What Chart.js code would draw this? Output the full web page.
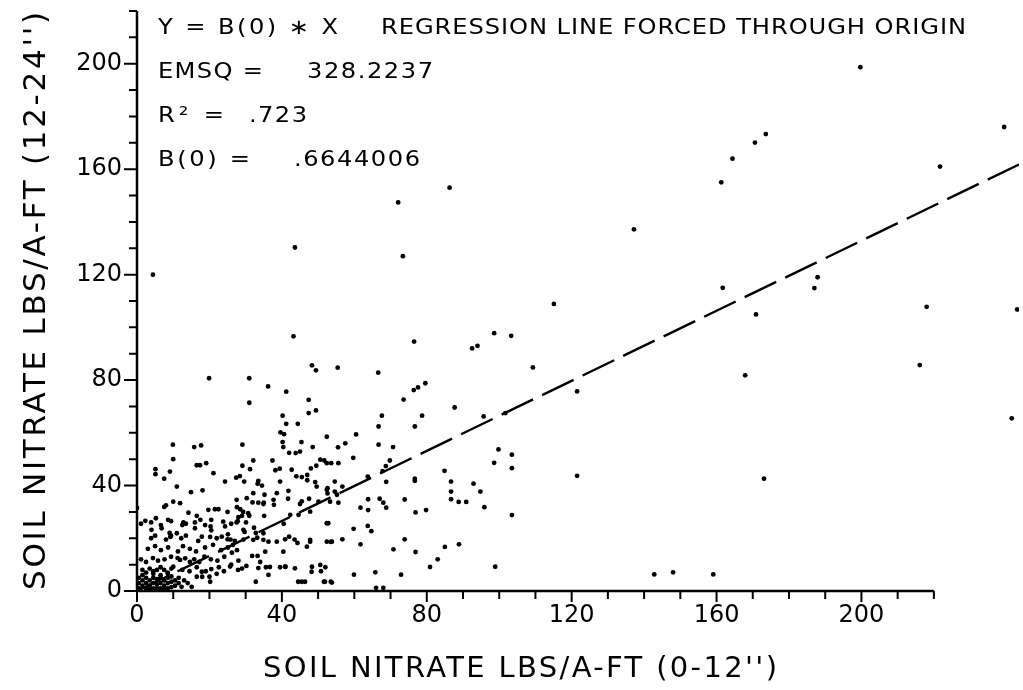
<!DOCTYPE html>
<html>
<head>
<meta charset="utf-8">
<script src="https://cdn.jsdelivr.net/npm/chart.js@4.4.0/dist/chart.umd.min.js"></script>
<style>
  html, body { margin: 0; padding: 0; background: #fff; }
  #wrap { width: 1023px; height: 690px; position: relative; }
</style>
</head>
<body>
<div id="wrap"><canvas id="nitrateChart"></canvas></div>
<script>
// readings: [0-12" nitrate, 12-24" nitrate] in lbs/a-ft
const outlierPoints = [
  [4.4, 120], [43.6, 130.3], [72.1, 147.4], [73.4, 127], [86.3, 153], [137.2, 137.2], [115.1, 108.9],
  [109.3, 84.8], [199.7, 198.7], [239.4, 176], [173.6, 173.3], [170.6, 170.1], [164.4, 164], [161.3, 155],
  [221.7, 161], [161.7, 115], [187.9, 119], [187, 114.9], [218, 107.8], [243, 106.8], [170.9, 104.9],
  [216.1, 85.7], [167.9, 81.8], [241.5, 65.5], [121.5, 75.7], [121.5, 43.7], [173.1, 42.6], [142.8, 6.3],
  [148, 7.1], [159.1, 6.3], [43.2, 96.6], [19.9, 80.7], [31, 80.7], [48.3, 85.6], [49.4, 83.7], [36.2, 77.6],
  [41.2, 75.6], [31, 71.4], [47.4, 72.5], [40.2, 66.5], [47.4, 67.5], [49.4, 68.5], [41.2, 63.4], [44.4, 63.4],
  [39.6, 60.2], [40.6, 59.5], [52.4, 58.5], [76.5, 94.6], [98.6, 97.8], [103.3, 96.8], [92.5, 92], [94, 93],
  [55.4, 84.7], [66.6, 82.8], [79.6, 78.8], [76.4, 76.2], [77.6, 77.2], [73.6, 72.6], [87.7, 69.6], [67.6, 66.5],
  [78.7, 66.5], [66.7, 62.4], [76.7, 62.4], [60.5, 59.4], [95.7, 66.2], [101.7, 67.5]
];

const midRangePoints = [
  [55.5, 54.5], [57.5, 56], [53.6, 48.5], [55.6, 48.5], [59.7, 50.5], [66.7, 55.5], [70.7, 54.6], [69.8, 49.5],
  [68.7, 47.4], [67.8, 45.5], [63.7, 43.4], [68.8, 41.4], [54.6, 41.5], [56.7, 39.6], [54.6, 37.7], [55.6, 33.5],
  [63.8, 34.8], [67, 35], [68, 33.5], [61.7, 31.6], [63.8, 30.7], [68.8, 31.6], [73.9, 34.7], [76.7, 41.8],
  [76.7, 42.6], [76.9, 29.8], [79.8, 30.7], [84.9, 45.6], [86.7, 41.5], [86.7, 37.7], [86.7, 34.8], [88.8, 33.8],
  [90.9, 33.8], [92.9, 40.7], [94.8, 37.7], [95.9, 31.8], [98.6, 48.6], [99.8, 53.7], [103.5, 51.7], [103.5, 46.6],
  [103.5, 28.8], [53.5, 18.6], [56.7, 19.6], [59.8, 23.6], [61.7, 17.7], [63.7, 24.7], [64.7, 22.7], [73.9, 19.6],
  [70.8, 15.8], [76.9, 14.8], [85, 16.7], [88.9, 17.7], [83, 12], [80.9, 9.1], [98.9, 9.2], [59.9, 6.2],
  [65.8, 7.1], [72.9, 6.2], [53.8, 3.2], [66, 1.2], [68, 1.2]
];

const mainCloudPoints = [
  [9.9, 55.5], [10, 50], [15.8, 54.6], [17.7, 55.2], [29.1, 55.5], [40.2, 56.5], [40.4, 54.6], [42, 52.4],
  [43.8, 52.3], [45, 52.9], [45.4, 56.5], [48.5, 54.6], [51.7, 49.5], [32.1, 49.5], [37.4, 49.5], [16.5, 47.7],
  [17.4, 47.7], [19.1, 48.5], [5.1, 46.2], [5.1, 44.3], [9.1, 45.3], [21.1, 44.7], [29.1, 47.5], [31.2, 46.2],
  [27.4, 43], [28.4, 43.6], [24.3, 41.5], [7.5, 42.6], [11, 39.6], [18.1, 38.2], [14.9, 37.5], [33.3, 40.7],
  [33.5, 41.8], [29.6, 41.5], [38.2, 45.8], [39.4, 46.4], [42.7, 46], [44, 43.5], [45.5, 43.2], [47, 44],
  [48, 46.5], [49.5, 47.5], [50.6, 49.8], [52.4, 48.5], [49.2, 41.3], [49.6, 39.6], [52.4, 38.4], [47, 42],
  [41.8, 38], [38.6, 37.1], [35.2, 36.5], [32.1, 37.1], [39.5, 41.5], [34.5, 40], [52.6, 39], [52.6, 37],
  [55.2, 36.5], [30.3, 35.2], [27.5, 34.6], [33.5, 33.5], [35, 33.5], [37.7, 34.6], [45, 33], [45.5, 34],
  [7.5, 31.9], [8, 32.5], [10, 33.9], [11.9, 33.3], [14.2, 29.7], [16.5, 28.5], [17.5, 27], [19.7, 30.8],
  [21.5, 31], [22.5, 31], [25, 30], [28, 28], [29, 28.5], [20.5, 27], [23.8, 26.3], [27.8, 26.5],
  [31, 28.5], [2.3, 26.6], [5.2, 27.6], [8.6, 27], [4, 23.2], [6.8, 23.8], [9, 22], [9.2, 20.5],
  [11, 21.9], [12.5, 25], [12.8, 26], [16, 23.8], [17.9, 20.6], [20.3, 24.5], [20.5, 23], [22, 20],
  [23.4, 20.6], [25, 19.6], [29.4, 23.2], [29.4, 19.5], [32.1, 19.4], [34.9, 19.4], [40.9, 19.6], [43.5, 19.5],
  [46.9, 16.8], [47.8, 19.4], [52.8, 25.7], [52.4, 18.7], [31.9, 33.6], [34.9, 33], [37.8, 32.7], [41.7, 35],
  [47.5, 35], [50.1, 33.9], [53.3, 33.9], [27.6, 31.8], [28.5, 31], [29.3, 30], [30.7, 29.5], [35.1, 28.5],
  [42.3, 28.9], [44.6, 28.9], [47.8, 30.1], [52.4, 25.7], [27.5, 26], [30.1, 26], [32.3, 24], [32.8, 22],
  [33.2, 20.2], [29.7, 22.4], [34.9, 21.9], [40.5, 25.5], [42, 20.6], [44.3, 18.2], [36.3, 18.7], [38.6, 18.7],
  [47.8, 18.7], [53.8, 18.7], [0, 31.5], [25.8, 19.5], [26.5, 17.5], [27.6, 15.5], [26.2, 14.5], [35.4, 14.9],
  [40.4, 14.9], [43.6, 8.6], [39.5, 9], [41, 9.2], [35.6, 9], [33.3, 13.3], [30.2, 9.5], [27.9, 8],
  [25.7, 9.3], [22.6, 9], [20.5, 8.3], [16.5, 5.4], [18, 5.4], [20, 5.4], [17.9, 7.3], [14.6, 11],
  [13.3, 12.4], [11.9, 11.8], [10, 9.2], [20.2, 3.5], [15.1, 1.6], [12.3, 1.6], [48.2, 7.3], [46.4, 3.5],
  [44.5, 3.5], [45.5, 3.5], [52, 9], [51.9, 3.5], [31.8, 13.3], [33.5, 8.7], [34, 11], [36.7, 9.1],
  [36.3, 6.1], [40.9, 9.2], [32.8, 3.5], [48.3, 9.2], [50.6, 9.9], [51.6, 3.5], [53.5, 3.5], [50.8, 7.5],
  [26, 10], [28, 11.5], [29, 8.5]
];

const cornerPoints = [
  [1.1, 25.5], [3.9, 26], [6.6, 25], [9.4, 26.5], [13.5, 25.5], [16, 26], [18.8, 25], [24.3, 24.5], [26, 25.5],
  [3.9, 20], [5, 21], [8, 19.5], [9.4, 21], [12.2, 20], [13.5, 21], [16.9, 19], [20.2, 20.5], [25.1, 21.5], [27, 19],
  [3, 16], [5, 17], [6.6, 15.5], [8.6, 16.5], [11.3, 15], [12.7, 17], [14.6, 16], [16.3, 15], [18.8, 16.5],
  [21, 17.5], [23.2, 15.5], [25.1, 16.5], [1.1, 12], [2.5, 11], [4.4, 12.5], [5.8, 11.5], [7.6, 12], [9.4, 13],
  [11.2, 12.5], [15.8, 12], [17.2, 11], [18.6, 13], [20.4, 12], [22.2, 11.5], [24.1, 13], [1.5, 8], [2.5, 7],
  [3.5, 8.5], [4.5, 7.5], [5.5, 8], [6.5, 9], [7.5, 8], [8.5, 7], [9.5, 8.5], [12.5, 8], [14.5, 7.5], [16.5, 9],
  [19, 7.5], [22, 6.5], [24, 7.5], [0.5, 1], [0.5, 3], [0.5, 5], [1.5, 2], [1.5, 4], [1.5, 6], [2.5, 1],
  [2.5, 3], [2.5, 5], [3.5, 0.5], [3.5, 2], [3.5, 4], [4.5, 1], [4.5, 3], [4.5, 5], [4.5, 6.5], [5.5, 1],
  [5.5, 2.5], [5.5, 4.5], [6.5, 1], [6.5, 3], [6.5, 5], [6.5, 6], [7.5, 0.5], [7.5, 2], [7.5, 4], [8.5, 1],
  [8.5, 3], [8.5, 5], [8.5, 6.5], [9.5, 1.5], [9.5, 3.5], [9.5, 5.5], [10.5, 2], [10.5, 4], [11.5, 3],
  [11.5, 5], [13, 4], [14, 3]
];

const regressionSlope = 0.6644006;
const regressionX = [0, 243.5];
const axisMin = 0;
const axisEnd = 220;
const majorTicks = [0, 40, 80, 120, 160, 200];
const xTitle = "SOIL NITRATE LBS/A-FT (0-12'')";
const yTitle = "SOIL NITRATE LBS/A-FT (12-24'')";
const statLines = [
  ['Y = B(0) \u2217 X', 'REGRESSION LINE FORCED THROUGH ORIGIN'],
  ['EMSQ =', '328.2237'],
  ['R\u00b2 =', '.723'],
  ['B(0) =', '.6644006']
];

const plotFont = '"DejaVu Sans", sans-serif';

// plotter lettering is wider than DejaVu: stretch a bit, then space out to the measured width
function plotterText(ctx, text, x, y, width, stretch) {
  ctx.save();
  ctx.letterSpacing = '0px';
  const natural = ctx.measureText(text).width;
  const gap = text.length > 1 ? (width / stretch - natural) / (text.length - 1) : 0;
  ctx.translate(x, y);
  ctx.scale(stretch, 1);
  ctx.letterSpacing = Math.max(gap, 0) + 'px';
  ctx.fillText(text, 0, 0);
  ctx.restore();
}

function noEdgePadding(s) {
  s.paddingTop = 0;
  s.paddingBottom = 0;
  s.paddingLeft = 0;
  s.paddingRight = 0;
}

const plotterFrame = {
  id: 'plotterFrame',
  beforeDatasetsDraw(chart) {
    const { ctx, scales: { x, y } } = chart;
    const x0 = x.getPixelForValue(axisMin);
    const y0 = y.getPixelForValue(axisMin);
    ctx.save();
    ctx.strokeStyle = '#000';
    ctx.lineWidth = 2.5;
    ctx.beginPath();
    ctx.moveTo(x0, y0);
    ctx.lineTo(x.getPixelForValue(axisEnd), y0);
    ctx.moveTo(x0, y0);
    ctx.lineTo(x0, y.getPixelForValue(axisEnd));
    ctx.stroke();

    ctx.lineWidth = 2;
    ctx.beginPath();
    x.ticks.forEach(t => {
      if (t.value > axisEnd) return;
      const px = x.getPixelForValue(t.value);
      const len = majorTicks.includes(t.value) ? 11 : 8;
      ctx.moveTo(px, y0);
      ctx.lineTo(px, y0 + len);
    });
    y.ticks.forEach(t => {
      if (t.value > axisEnd) return;
      const py = y.getPixelForValue(t.value);
      const len = majorTicks.includes(t.value) ? 13 : 8;
      ctx.moveTo(x0, py);
      ctx.lineTo(x0 - len, py);
    });
    ctx.stroke();
    ctx.restore();
  },
  afterDraw(chart) {
    const { ctx } = chart;
    ctx.save();
    ctx.fillStyle = '#000';
    ctx.textBaseline = 'alphabetic';
    ctx.textAlign = 'left';

    // regression statistics
    ctx.font = '21px ' + plotFont;
    plotterText(ctx, statLines[0][0], 158, 34, 180, 1.15);
    plotterText(ctx, statLines[0][1], 381, 34, 585, 1.15);
    plotterText(ctx, statLines[1][0], 158, 78, 105, 1.15);
    plotterText(ctx, statLines[1][1], 307, 78, 126, 1.15);
    plotterText(ctx, statLines[2][0], 158, 122, 66, 1.15);
    plotterText(ctx, statLines[2][1], 249, 122, 58, 1.15);
    plotterText(ctx, statLines[3][0], 158, 166, 92, 1.15);
    plotterText(ctx, statLines[3][1], 294, 166, 126, 1.15);

    // axis titles
    ctx.font = '29px ' + plotFont;
    plotterText(ctx, xTitle, 263, 677, 514, 1.0);
    ctx.translate(45, 590);
    ctx.rotate(-Math.PI / 2);
    ctx.font = '31px ' + plotFont;
    plotterText(ctx, yTitle, 0, 0, 578, 1.0);
    ctx.restore();
  }
};

const ctx = document.getElementById('nitrateChart');
const allPoints = [...outlierPoints, ...midRangePoints, ...mainCloudPoints, ...cornerPoints];

new Chart(ctx, {
  type: 'scatter',
  data: {
    datasets: [
      {
        label: 'Samples',
        data: allPoints.map(p => ({ x: p[0], y: p[1] })),
        pointRadius: 2.4,
        pointBackgroundColor: '#000',
        pointBorderWidth: 0,
        showLine: false
      },
      {
        type: 'line',
        label: 'Y = B(0) * X',
        data: regressionX.map(v => ({ x: v, y: v * regressionSlope })),
        borderColor: '#000',
        borderWidth: 2.4,
        borderDash: [35, 10],
        pointRadius: 0,
        fill: false
      }
    ]
  },
  options: {
    responsive: true,
    maintainAspectRatio: false,
    animation: false,
    layout: { padding: { top: 11, right: 0, bottom: 0, left: 0 } },
    plugins: {
      legend: { display: false },
      tooltip: { enabled: false }
    },
    scales: {
      x: {
        type: 'linear',
        min: axisMin,
        max: regressionX[1],
        afterFit: s => { s.height = 99; noEdgePadding(s); },
        grid: { display: false, drawTicks: false },
        border: { display: false },
        ticks: {
          stepSize: 10,
          autoSkip: false,
          maxRotation: 0,
          padding: 10,
          color: '#000',
          font: { family: plotFont, size: 24 },
          callback: v => majorTicks.includes(v) ? String(v) : ''
        }
      },
      y: {
        type: 'linear',
        min: axisMin,
        max: axisEnd,
        afterFit: s => { s.width = 137; noEdgePadding(s); },
        grid: { display: false, drawTicks: false },
        border: { display: false },
        ticks: {
          stepSize: 10,
          autoSkip: false,
          padding: 15,
          color: '#000',
          font: { family: plotFont, size: 24 },
          callback: v => majorTicks.includes(v) ? String(v) : ''
        }
      }
    }
  },
  plugins: [plotterFrame]
});
</script>
</body>
</html>
